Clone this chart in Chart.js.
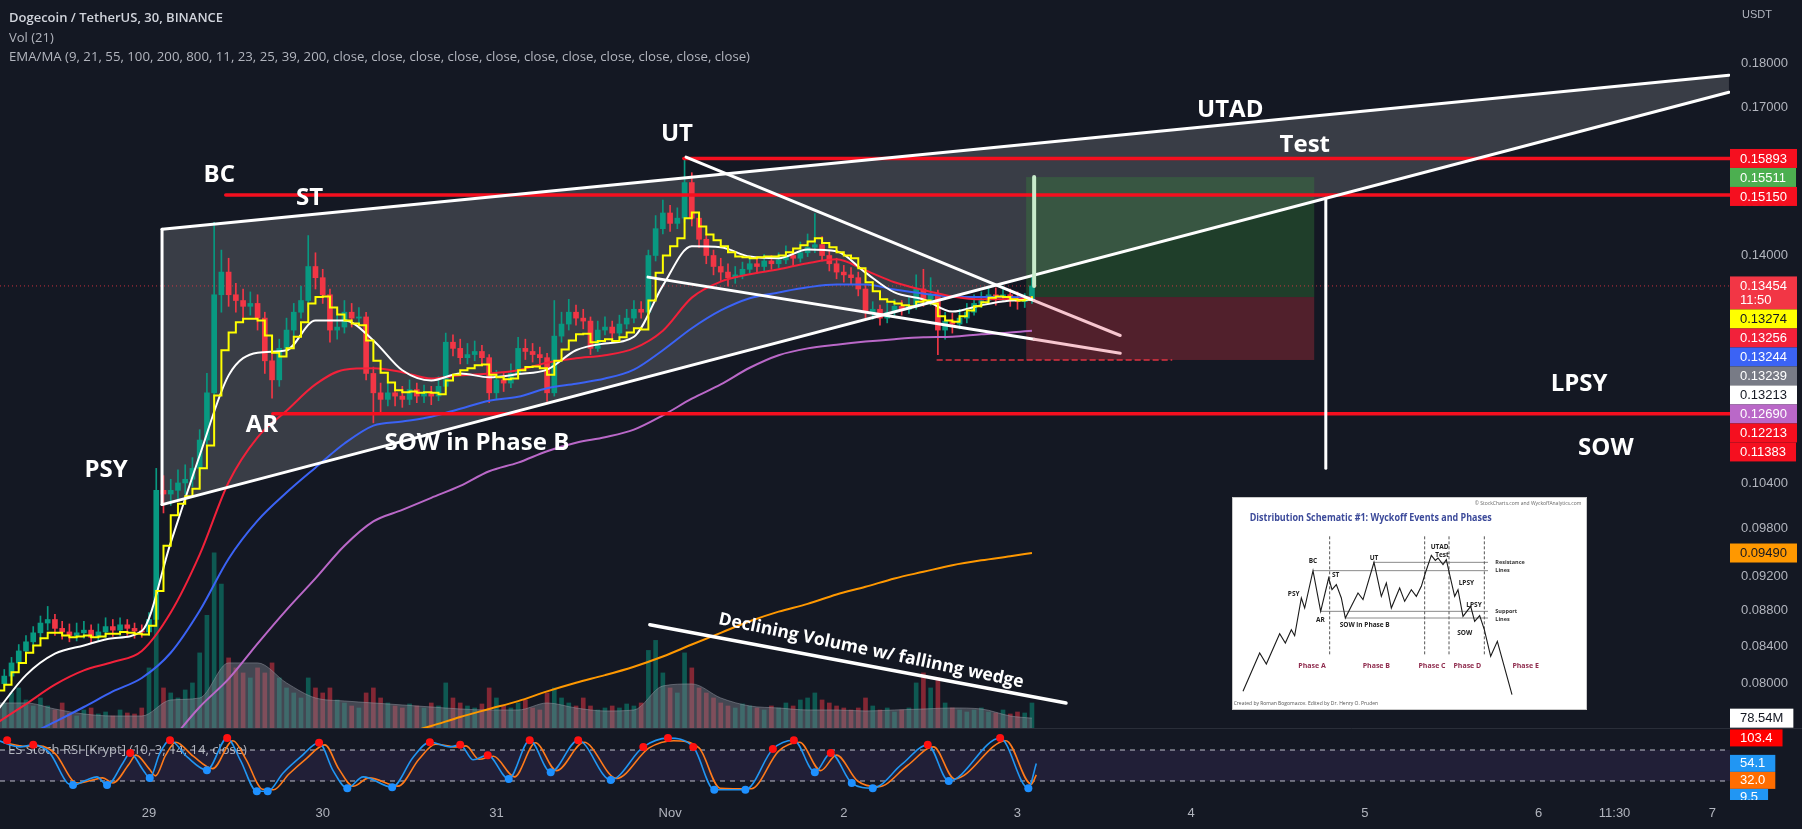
<!DOCTYPE html>
<html>
<head>
<meta charset="utf-8">
<script src="https://cdn.jsdelivr.net/npm/chart.js@4.4.1/dist/chart.umd.min.js"></script>
<style>
html, body { margin: 0; padding: 0; background: #141823; overflow: hidden; }
#wrap { position: relative; width: 1802px; height: 829px; background: #141823; }
#main { position: absolute; left: 0; top: 0; }
#osc { position: absolute; left: 0; top: 728px; }
#inset { position: absolute; left: 1232px; top: 497px; }
</style>
</head>
<body>
<div id="wrap">
  <canvas id="main" width="1802" height="728"></canvas>
  <canvas id="osc" width="1802" height="101"></canvas>
  <canvas id="inset" width="355" height="213"></canvas>
</div>
<script>
// ---------- price data: 1h bars from Oct 28 03:00 (index 0) ----------
const firstOpen = 0.0795;
const closes = [
  .0800,.0808,.0822,.0835,.0845,.0855,.0866,.0870,.0860,.0856,
  .0852,.0855,.0858,.0850,.0856,.0862,.0858,.0864,.0860,.0857,
  .0856,.0870,.1030,.1025,.1030,.1040,.1045,.1060,.1100,.1170,
  .1330,.1370,.1330,.1320,.1310,.1315,.1290,.1220,.1190,.1240,
  .1270,.1300,.1320,.1380,.1360,.1330,.1270,.1275,.1300,.1290,
  .1292,.1200,.1170,.1160,.1170,.1165,.1160,.1175,.1165,.1170,
  .1165,.1180,.1250,.1240,.1225,.1230,.1235,.1225,.1170,.1190,
  .1185,.1200,.1240,.1235,.1230,.1225,.1170,.1260,.1280,.1300,
  .1290,.1285,.1240,.1270,.1275,.1265,.1280,.1290,.1305,.1300,
  .1400,.1450,.1480,.1460,.1470,.1540,.1470,.1430,.1400,.1380,
  .1370,.1360,.1365,.1375,.1385,.1380,.1390,.1385,.1392,.1400,
  .1395,.1405,.1415,.1420,.1400,.1385,.1370,.1365,.1360,.1340,
  .1300,.1305,.1290,.1300,.1310,.1305,.1310,.1340,.1320,.1330,
  .1270,.1285,.1280,.1290,.1300,.1315,.1320,.1330,.1325,.1330,
  .1322,.1318,.1320,.13454
];
const highs = [
  .0810,.0815,.0828,.0842,.0852,.0862,.0874,.0885,.0876,.0868,
  .0865,.0866,.0868,.0864,.0865,.0872,.0870,.0872,.0870,.0866,
  .0864,.0878,.1060,.1050,.1045,.1058,.1065,.1075,.1115,.1200,
  .1462,.1410,.1395,.1350,.1340,.1335,.1330,.1300,.1235,.1255,
  .1290,.1315,.1345,.1437,.1405,.1375,.1340,.1295,.1320,.1315,
  .1308,.1300,.1210,.1185,.1190,.1185,.1180,.1190,.1185,.1182,
  .1180,.1195,.1265,.1262,.1255,.1248,.1252,.1245,.1230,.1205,
  .1200,.1215,.1258,.1255,.1248,.1242,.1232,.1320,.1300,.1322,
  .1312,.1305,.1292,.1285,.1292,.1285,.1295,.1305,.1320,.1318,
  .1410,.1475,.1505,.1495,.1490,.1589,.1560,.1480,.1440,.1410,
  .1395,.1385,.1380,.1388,.1398,.1395,.1402,.1400,.1405,.1418,
  .1412,.1425,.1440,.1479,.1435,.1410,.1395,.1382,.1378,.1370,
  .1348,.1318,.1312,.1315,.1322,.1320,.1325,.1365,.1375,.1360,
  .1338,.1300,.1298,.1305,.1315,.1330,.1335,.1345,.1342,.1345,
  .1340,.1335,.1332,.1360
];
const lows = [
  .0790,.0796,.0803,.0815,.0828,.0838,.0848,.0858,.0852,.0848,
  .0845,.0846,.0849,.0843,.0846,.0850,.0851,.0852,.0852,.0849,
  .0850,.0852,.0866,.1000,.1010,.1018,.1025,.1035,.1050,.1090,
  .1160,.1300,.1310,.1300,.1290,.1295,.1270,.1200,.1162,.1180,
  .1230,.1260,.1290,.1310,.1340,.1315,.1250,.1255,.1265,.1275,
  .1276,.1190,.1125,.1140,.1150,.1150,.1148,.1152,.1155,.1155,
  .1152,.1158,.1175,.1228,.1215,.1215,.1220,.1212,.1155,.1160,
  .1172,.1178,.1195,.1222,.1218,.1212,.1157,.1165,.1250,.1270,
  .1278,.1272,.1230,.1235,.1262,.1255,.1258,.1272,.1282,.1290,
  .1295,.1390,.1440,.1445,.1450,.1462,.1455,.1415,.1385,.1365,
  .1355,.1345,.1350,.1358,.1368,.1368,.1372,.1375,.1378,.1385,
  .1382,.1388,.1398,.1405,.1390,.1372,.1358,.1352,.1348,.1328,
  .1290,.1288,.1278,.1282,.1292,.1295,.1298,.1305,.1310,.1312,
  .1230,.1255,.1265,.1272,.1282,.1295,.1308,.1315,.1312,.1318,
  .1310,.1305,.1308,.1315
];
// volume in millions
const volumes = [
  240,200,280,320,224,176,240,176,144,200,
  120,96,144,160,112,128,96,144,120,112,
  160,480,1150,320,280,240,304,360,600,900,
  1400,1150,560,480,440,400,480,440,520,400,
  320,280,240,400,320,280,320,224,200,176,
  160,280,320,240,200,176,160,192,176,160,
  200,176,360,240,200,176,160,192,320,240,
  176,160,200,224,160,144,280,320,240,200,
  176,240,176,144,160,176,160,192,176,200,
  620,700,440,320,280,600,480,320,280,240,
  200,176,160,192,176,160,144,176,160,200,
  176,224,240,280,224,200,176,160,144,160,
  240,176,144,160,128,144,160,360,440,320,
  400,200,160,144,128,144,160,128,120,144,
  112,128,120,200
];
// moving averages, sampled every 4 bars (last point = last bar)
const emaIdx = [0,4,8,12,16,20,24,28,32,36,40,44,48,52,56,60,64,68,72,76,80,84,88,92,96,100,104,108,112,116,120,124,128,132,136,140,143];
const emaWhite = [.0772,.0809,.0832,.0841,.0849,.0857,.0962,.1078,.1197,.1233,.1237,.1286,.1286,.1253,.1205,.1189,.1200,.1194,.1199,.1206,.1237,.1248,.1259,.1346,.1417,.1415,.1398,.1395,.1411,.1408,.1369,.1334,.1322,.1301,.1312,.1320,.13213];
const emaRed = [.0760,.0779,.0799,.0814,.0823,.0835,.0878,.0947,.1041,.1104,.1143,.1183,.1206,.1208,.1202,.1192,.1197,.1200,.1205,.1217,.1224,.1229,.1240,.1269,.1325,.1353,.1366,.1375,.1386,.1393,.1373,.1352,.1338,.1327,.1322,.1322,.13256];
const emaBlue = [.0733,.0747,.0761,.0776,.0792,.0806,.0833,.0880,.0942,.0990,.1027,.1061,.1095,.1121,.1127,.1134,.1146,.1158,.1164,.1177,.1184,.1192,.1206,.1237,.1273,.1303,.1324,.1334,.1343,.1348,.1348,.1339,.1332,.1327,.1326,.1326,.13244];
const emaPurple = [.0665,.0672,.0680,.0688,.0697,.0707,.0742,.0776,.0805,.0843,.0881,.0918,.0958,.0989,.1004,.1020,.1036,.1056,.1068,.1084,.1096,.1104,.1115,.1136,.1161,.1183,.1209,.1229,.1240,.1246,.1251,.1255,.1258,.1259,.1263,.1266,.12690];
const emaOrange = [null,null,null,null,null,null,null,null,null,null,null,null,null,null,.0749,.0757,.0766,.0774,.0782,.0792,.0801,.0809,.0818,.0829,.0842,.0855,.0868,.0879,.0888,.0899,.0908,.0918,.0926,.0934,.0940,.0945,.0949];
const volMA = [200,200,152,112,96,96,224,240,520,520,360,240,216,200,184,168,152,144,144,200,160,136,144,336,352,240,176,160,144,144,136,144,152,160,152,96,78.54];
// fast stepped average, one value per bar
const emaYellow = [
  .0793,.0799,.0812,.0822,.0833,.0841,.0849,.0855,.0855,.0852,
  .0850,.0851,.0852,.0850,.0851,.0854,.0854,.0856,.0855,.0854,
  .0853,.0863,.0903,.0958,.0997,.1012,.1022,.1032,.1060,.1092,
  .1166,.1237,.1266,.1283,.1289,.1289,.1286,.1261,.1233,.1227,
  .1240,.1259,.1283,.1315,.1326,.1327,.1308,.1296,.1286,.1281,
  .1278,.1253,.1220,.1201,.1186,.1174,.1171,.1172,.1170,.1171,
  .1170,.1168,.1189,.1198,.1205,.1208,.1213,.1214,.1198,.1194,
  .1191,.1192,.1205,.1210,.1211,.1208,.1198,.1220,.1238,.1253,
  .1263,.1264,.1250,.1252,.1255,.1252,.1258,.1266,.1273,.1271,
  .1320,.1369,.1400,.1417,.1432,.1470,.1481,.1454,.1439,.1428,
  .1417,.1406,.1398,.1397,.1395,.1397,.1398,.1398,.1400,.1406,
  .1413,.1419,.1426,.1432,.1423,.1415,.1406,.1400,.1395,.1377,
  .1352,.1336,.1322,.1318,.1315,.1312,.1310,.1318,.1320,.1315,
  .1293,.1286,.1284,.1293,.1303,.1310,.1317,.1325,.1327,.1326,
  .1322,.1320,.1322,.13274
];
// stoch RSI
const kIdx = [0,3.2,5.0,7.3,9.7,10.5,12.4,13.8,15.2,17.4,18.4,20.2,21.1,22.5,23.9,26.3,29.0,31.8,33.6,35.9,37.4,39.5,41.9,44.5,46.4,48.4,50.6,54.6,57.5,59.8,62.6,64.0,65.8,67.8,70.7,73.6,76.5,80.3,84.8,89.3,92.7,96.2,99.1,103.4,107.2,110.1,113.0,115.2,118.1,121.0,125.0,128.6,131.5,138.6,142.5,143.6];
const kVal = [99,86,90,74,16,12,22,28,12,55,74,41,26,74,99,66,41,103,61,0,0,35,66,94,41,6,28,8,66,95,86,90,61,70,24,99,37,99,22,86,103,86,3,3,82,99,37,74,16,6,52,90,20,103,6,54];
const dIdx = [0.8,4.0,5.8,8.1,10.5,11.3,13.2,14.6,16.0,18.2,19.2,21.0,21.9,23.3,24.7,27.1,29.8,32.6,34.4,36.7,38.2,40.3,42.7,45.3,47.2,49.2,51.4,55.4,58.3,60.6,63.4,64.8,66.6,68.6,71.5,74.4,77.3,81.1,85.6,90.1,93.5,97.0,99.9,104.2,108.0,110.9,113.8,116.0,118.9,121.8,125.8,129.4,132.3,139.4,142.9,143.6];
const dVal = [95,87,88,72,20,16,22,26,16,52,70,44,30,70,95,68,44,98,62,4,3,33,63,90,44,10,26,10,62,91,86,88,62,68,28,94,40,95,25,84,98,84,6,5,78,95,40,70,20,9,50,86,24,98,14,32];
const topDotIdx = [1.4,5.0,18.4,23.9,31.8,44.5,59.8,64.0,67.8,73.6,80.3,89.3,92.7,96.2,107.2,110.1,115.2,128.6,138.6];
const topDotVal = [99,90,74,99,103,94,95,90,70,99,99,86,103,86,82,99,74,90,103];
const lowDotIdx = [10.5,15.2,21.1,29.0,35.9,37.4,48.4,54.6,70.7,76.5,84.8,99.1,103.4,113.0,118.1,121.0,131.5,142.5];
const lowDotVal = [12,12,26,41,0,0,6,8,24,37,22,3,3,37,16,6,20,6];

// axis ticks
const priceTicks = [0.18, 0.17, 0.15, 0.14, 0.104, 0.098, 0.092, 0.088, 0.084, 0.08];
const dayTicks = [21, 45, 69, 93, 117, 141, 165, 189, 213, 223.5, 237];
const dayLabels = ['29', '30', '31', 'Nov', '2', '3', '4', '5', '6', '11:30', '7'];
const xRange = [0.41, 239.45];
const priceRange = [0.0755, 0.1955];
const volRange = [0, 5816];
const oscRange = [-16.8, 122.6];

// drawings (bar index, price)
const wedgeIdx = [22.8, 239.3, 239.3, 22.8];
const wedgePx = [0.1449, 0.1772, 0.1733, 0.1011];
const fallUpIdx = [95.2, 143.3, 155.2];
const fallUpPx = [0.1592, 0.1320, 0.1261];
const fallLoIdx = [89.95, 143.3, 155.2];
const fallLoPx = [0.1361, 0.1255, 0.1232];
const redLevels = [0.15893, 0.1515, 0.11383];
const redFrom = [94.9, 31.6, 38.1];
const vLineIdx = 183.6, vLineTop = 0.1509, vLineBottom = 0.1060;
const pos = { from: 142.2, to: 182.0, target: 0.15511, entry: 0.1326, stop: 0.12213 };
const stopDash = { from: 129.9, to: 162.3 };
const lastPrice = 0.13454;
const volLine = { i0: 90.2, p0: 0.0864, i1: 147.7, p1: 0.0780 };
const volText = { i: 99.6, p: 0.0865, angle: 11.8, text: 'Declining Volume w/ fallinng wedge' };
const wyckoff = [
  ['PSY', 15.06, 0.1058], ['BC', 30.7, 0.1555], ['ST', 43.2, 0.1509], ['AR', 36.6, 0.1121],
  ['SOW in Phase B', 66.3, 0.1096], ['UT', 93.95, 0.1640], ['UTAD', 170.4, 0.1693],
  ['Test', 180.7, 0.1617], ['LPSY', 218.6, 0.1183], ['SOW', 222.3, 0.1088]
];
const priceTags = [
  { v: 0.15893, bg: '#f50f1f', fg: '#ffffff' },
  { v: 0.15511, bg: '#4caf50', fg: '#ffffff' },
  { v: 0.15150, bg: '#f50f1f', fg: '#ffffff' },
  { v: 0.13454, bg: '#f23645', fg: '#ffffff', sub: '11:50' },
  { v: 0.13274, bg: '#ffff00', fg: '#131722' },
  { v: 0.13256, bg: '#f2213a', fg: '#ffffff' },
  { v: 0.13244, bg: '#3b63f5', fg: '#ffffff' },
  { v: 0.13239, bg: '#787b86', fg: '#ffffff' },
  { v: 0.13213, bg: '#ffffff', fg: '#131722' },
  { v: 0.12690, bg: '#ba68c8', fg: '#ffffff' },
  { v: 0.12213, bg: '#f50f1f', fg: '#ffffff' },
  { v: 0.11383, bg: '#f50f1f', fg: '#ffffff' },
  { v: 0.09490, bg: '#ff9800', fg: '#131722' }
];
const stochTags = [
  { v: 103.4, bg: '#ff0000', fg: '#ffffff' },
  { v: 54.1, bg: '#2196f3', fg: '#ffffff' },
  { v: 32.0, bg: '#ff6d00', fg: '#ffffff' },
  { v: 9.5, bg: '#2196f3', fg: '#ffffff' }
];

// schematic inset (coordinates of the source picture)
const schemX = [55,105,125,165,182,200,210,230,240,265,288,312,322,335,350,362,400,415,448,470,485,500,525,540,560,575,590,602,620,632,640,655,665,675,690,700,715,738,750,765,779,798,818,862];
const schemY = [605,490,523,432,460,420,438,325,355,243,365,265,300,285,325,385,310,330,218,320,280,355,295,335,300,320,290,250,197,212,205,225,210,255,320,300,380,350,395,378,420,500,455,615];
const schemPhaseX = [315, 600, 673, 779];
const schemLevels = [[445, 790, 218], [265, 790, 243], [288, 790, 365], [362, 790, 385]];
const schemLabels = [
  ['BC', 265, 213], ['PSY', 207, 312], ['ST', 333, 257], ['AR', 287, 390], ['SOW in Phase B', 420, 407],
  ['UT', 448, 205], ['UTAD', 645, 172], ['Test', 652, 197], ['LPSY', 725, 280], ['LPSY', 748, 345], ['SOW', 720, 430]
];
const schemSide = [['Resistance', 812, 218], ['Lines', 812, 243], ['Support', 812, 365], ['Lines', 812, 388]];
const schemPhases = [['Phase A', 262, 530], ['Phase B', 455, 530], ['Phase C', 622, 530], ['Phase D', 728, 530], ['Phase E', 903, 530]];

// ---------- helpers ----------
const AXIS_TXT = '#b2b5be';
const UP = '#089981', DOWN = '#f23645';
const LABEL_FONT = '"Open Sans", "Noto Sans", sans-serif';
const AXIS_FONT = '"Liberation Sans", Arial, sans-serif';

const idx = closes.map((_, i) => i);
const opens = closes.map((c, i) => (i === 0 ? firstOpen : closes[i - 1]));
const isUp = closes.map((c, i) => c >= opens[i]);

function pts(xsArr, ysArr) {
  return xsArr.map((x, k) => ({ x: x, y: ysArr[k] })).filter(p => p.y !== null);
}
// keep the exact range, chart.js would otherwise round to tick bounds
function fixRange(range) {
  return s => { s.min = range[0]; s.max = range[1]; };
}
// axis box without the extra label padding chart.js adds
function fitAxis(w, h) {
  return s => {
    if (w !== null) s.width = w;
    if (h !== null) s.height = h;
    s.paddingTop = 0; s.paddingBottom = 0; s.paddingLeft = 0; s.paddingRight = 0;
  };
}

function drawTags(ctx, tags, left, boxH, lineGap) {
  tags.sort((a, b) => a.y - b.y);
  let floor = -Infinity;
  ctx.font = '13px ' + AXIS_FONT;
  ctx.textBaseline = 'middle';
  ctx.textAlign = 'left';
  tags.forEach(t => {
    const lines = t.sub ? [t.text, t.sub] : [t.text];
    const h = boxH + (lines.length - 1) * lineGap;
    let top = t.y - boxH / 2;
    if (top < floor) top = floor;
    const w = Math.max(...lines.map(l => ctx.measureText(l).width)) + 20;
    ctx.fillStyle = t.bg;
    ctx.fillRect(left, top, w, h);
    ctx.fillStyle = t.fg;
    lines.forEach((l, k) => ctx.fillText(l, left + 10, top + boxH / 2 + k * lineGap + 0.5));
    floor = top + h;
  });
}

// ---------- main pane drawings ----------
const mainDecor = {
  id: 'mainDecor',
  beforeDatasetsDraw(chart) {
    const { ctx, chartArea: a, scales: { x, y } } = chart;
    ctx.save();
    ctx.beginPath();
    ctx.rect(a.left, a.top, a.right - a.left, a.bottom - a.top);
    ctx.clip();
    // distribution range wedge
    ctx.beginPath();
    wedgeIdx.forEach((i, k) => {
      const px = x.getPixelForValue(i), py = y.getPixelForValue(wedgePx[k]);
      if (k === 0) ctx.moveTo(px, py); else ctx.lineTo(px, py);
    });
    ctx.closePath();
    ctx.fillStyle = 'rgba(255,255,255,0.16)';
    ctx.fill();
    // long position tool
    const x0 = x.getPixelForValue(pos.from), x1 = x.getPixelForValue(pos.to);
    const yT = y.getPixelForValue(pos.target), yE = y.getPixelForValue(pos.entry), yS = y.getPixelForValue(pos.stop);
    ctx.fillStyle = 'rgba(56,142,60,0.32)';
    ctx.fillRect(x0, yT, x1 - x0, yE - yT);
    ctx.fillStyle = 'rgba(242,54,69,0.28)';
    ctx.fillRect(x0, yE, x1 - x0, yS - yE);
    // last price dotted line
    const yL = y.getPixelForValue(lastPrice);
    ctx.strokeStyle = 'rgba(242,54,69,0.8)';
    ctx.lineWidth = 1;
    ctx.setLineDash([1, 3]);
    ctx.beginPath();
    ctx.moveTo(a.left, yL);
    ctx.lineTo(a.right, yL);
    ctx.stroke();
    ctx.setLineDash([]);
    ctx.restore();
  },
  afterDatasetsDraw(chart) {
    const { ctx, chartArea: a, scales: { x, y } } = chart;
    const P = (i, p) => [x.getPixelForValue(i), y.getPixelForValue(p)];
    const seg = (p0, p1, color, w, dash) => {
      ctx.strokeStyle = color;
      ctx.lineWidth = w;
      ctx.setLineDash(dash || []);
      ctx.beginPath();
      ctx.moveTo(p0[0], p0[1]);
      ctx.lineTo(p1[0], p1[1]);
      ctx.stroke();
      ctx.setLineDash([]);
    };
    ctx.save();
    ctx.beginPath();
    ctx.rect(a.left, a.top, a.right - a.left, a.bottom - a.top);
    ctx.clip();
    ctx.lineCap = 'round';

    // red horizontal levels
    redLevels.forEach((p, k) => seg(P(redFrom[k], p), P(240, p), '#f50f1f', 3.5));

    // big wedge outline
    seg(P(wedgeIdx[0], wedgePx[0]), P(wedgeIdx[1], wedgePx[1]), '#ffffff', 3);
    seg(P(wedgeIdx[3], wedgePx[3]), P(wedgeIdx[2], wedgePx[2]), '#ffffff', 3);
    seg(P(wedgeIdx[0], wedgePx[0]), P(wedgeIdx[3], wedgePx[3]), '#ffffff', 3);

    // falling wedge
    seg(P(fallUpIdx[0], fallUpPx[0]), P(fallUpIdx[1], fallUpPx[1]), '#ffffff', 3);
    seg(P(fallUpIdx[1], fallUpPx[1]), P(fallUpIdx[2], fallUpPx[2]), '#f7c6cf', 3);
    seg(P(fallLoIdx[0], fallLoPx[0]), P(fallLoIdx[1], fallLoPx[1]), '#ffffff', 3);
    seg(P(fallLoIdx[1], fallLoPx[1]), P(fallLoIdx[2], fallLoPx[2]), '#f7c6cf', 3);

    // vertical marker
    seg(P(vLineIdx, vLineTop), P(vLineIdx, vLineBottom), '#ffffff', 3);

    // target path and stop level of the position
    seg(P(143.3, pos.target), P(143.3, lastPrice), '#c8ebcb', 4);
    seg(P(stopDash.from, pos.stop), P(stopDash.to, pos.stop), 'rgba(242,54,69,0.9)', 1.5, [5, 4]);

    // declining volume line + text
    seg(P(volLine.i0, volLine.p0), P(volLine.i1, volLine.p1), '#ffffff', 3.5);
    const tp = P(volText.i, volText.p);
    ctx.save();
    ctx.translate(tp[0], tp[1]);
    ctx.rotate(volText.angle * Math.PI / 180);
    ctx.font = 'bold 17.5px ' + LABEL_FONT;
    ctx.fillStyle = '#ffffff';
    ctx.textAlign = 'left';
    ctx.textBaseline = 'alphabetic';
    ctx.fillText(volText.text, 0, 0);
    ctx.restore();

    // wyckoff labels
    ctx.font = 'bold 24px ' + LABEL_FONT;
    ctx.fillStyle = '#ffffff';
    ctx.textAlign = 'center';
    ctx.textBaseline = 'middle';
    wyckoff.forEach(w => {
      const p = P(w[1], w[2]);
      ctx.fillText(w[0], p[0], p[1]);
    });
    ctx.restore();
  },
  afterDraw(chart) {
    const { ctx, chartArea: a, scales: { y, yVol } } = chart;
    ctx.save();
    // legend
    ctx.textAlign = 'left';
    ctx.textBaseline = 'middle';
    ctx.fillStyle = '#d1d4dc';
    ctx.font = '600 13px ' + LABEL_FONT;
    ctx.fillText('Dogecoin / TetherUS, 30, BINANCE', 9, 18);
    ctx.fillStyle = AXIS_TXT;
    ctx.font = '13px ' + LABEL_FONT;
    ctx.fillText('Vol (21)', 9, 38);
    ctx.font = '13.5px ' + LABEL_FONT;
    ctx.fillText('EMA/MA (9, 21, 55, 100, 200, 800, 11, 23, 25, 39, 200, close, close, close, close, close, close, close, close, close, close, close)', 9, 57, 741);
    ctx.font = '11px ' + AXIS_FONT;
    ctx.fillText('USDT', 1742, 15);
    // price tags on the axis
    const tags = priceTags.map(t => ({ ...t, y: y.getPixelForValue(t.v), text: t.v.toFixed(5) }));
    drawTags(ctx, tags, a.right, 19, 14);
    const vLast = volMA[volMA.length - 1];
    drawTags(ctx, [{ v: vLast, y: yVol.getPixelForValue(vLast), text: vLast.toFixed(2) + 'M', bg: '#ffffff', fg: '#131722' }], a.right, 19, 14);
    ctx.restore();
  }
};

const mainChart = new Chart(document.getElementById('main'), {
  type: 'bar',
  data: {
    datasets: [
      { type: 'line', label: 'EMA fast', data: emaYellow.map((v, i) => ({ x: i, y: v })), stepped: true,
        borderColor: '#ffff00', borderWidth: 2, pointRadius: 0, order: 0 },
      { type: 'line', label: 'EMA 11', data: pts(emaIdx, emaWhite), borderColor: '#ffffff', borderWidth: 2,
        pointRadius: 0, cubicInterpolationMode: 'monotone', order: 1 },
      { type: 'line', label: 'EMA 55', data: pts(emaIdx, emaRed), borderColor: '#f2213a', borderWidth: 2,
        pointRadius: 0, cubicInterpolationMode: 'monotone', order: 2 },
      { type: 'line', label: 'EMA 100', data: pts(emaIdx, emaBlue), borderColor: '#3b63f5', borderWidth: 2,
        pointRadius: 0, cubicInterpolationMode: 'monotone', order: 3 },
      { type: 'line', label: 'EMA 200', data: pts(emaIdx, emaPurple), borderColor: '#ba68c8', borderWidth: 2,
        pointRadius: 0, cubicInterpolationMode: 'monotone', order: 4 },
      { type: 'line', label: 'EMA 800', data: pts(emaIdx, emaOrange), borderColor: '#ff9800', borderWidth: 2,
        pointRadius: 0, cubicInterpolationMode: 'monotone', order: 5 },
      { label: 'body', data: idx.map(i => ({ x: i, y: [opens[i], closes[i]] })),
        backgroundColor: idx.map(i => (isUp[i] ? UP : DOWN)), barThickness: 5, minBarLength: 1,
        grouped: false, order: 6 },
      { label: 'wick', data: idx.map(i => ({ x: i, y: [lows[i], highs[i]] })),
        backgroundColor: idx.map(i => (isUp[i] ? UP : DOWN)), barThickness: 1, grouped: false, order: 7 },
      { type: 'line', label: 'Vol MA', yAxisID: 'yVol', data: pts(emaIdx, volMA), fill: 'origin',
        backgroundColor: 'rgba(125,128,140,0.45)', borderColor: 'rgba(150,153,164,0.5)', borderWidth: 1,
        pointRadius: 0, cubicInterpolationMode: 'monotone', order: 8 },
      { label: 'Volume', yAxisID: 'yVol', data: idx.map(i => ({ x: i, y: volumes[i] })),
        backgroundColor: idx.map(i => (isUp[i] ? 'rgba(8,153,129,0.5)' : 'rgba(242,54,69,0.5)')),
        barThickness: 4, grouped: false, order: 9 }
    ]
  },
  options: {
    responsive: false,
    animation: false,
    devicePixelRatio: 1,
    layout: { padding: 0, autoPadding: false },
    plugins: { legend: { display: false }, tooltip: { enabled: false } },
    scales: {
      x: { type: 'linear', min: xRange[0], max: xRange[1], bounds: 'data', display: false, offset: false,
        afterBuildTicks: fixRange(xRange) },
      y: {
        type: 'logarithmic', position: 'right', min: priceRange[0], max: priceRange[1], bounds: 'data',
        grid: { display: false, drawTicks: false }, border: { display: false },
        afterBuildTicks: s => { s.ticks = priceTicks.map(v => ({ value: v })); fixRange(priceRange)(s); },
        afterFit: fitAxis(72, null),
        ticks: { color: AXIS_TXT, font: { size: 13, family: AXIS_FONT }, padding: 11, callback: v => Number(v).toFixed(5) }
      },
      yVol: { type: 'linear', min: volRange[0], max: volRange[1], bounds: 'data', display: false,
        afterBuildTicks: fixRange(volRange) }
    }
  },
  plugins: [mainDecor]
});

// ---------- stoch RSI pane ----------
const oscDecor = {
  id: 'oscDecor',
  beforeDatasetsDraw(chart) {
    const { ctx, chartArea: a, scales: { y } } = chart;
    const y80 = y.getPixelForValue(80), y20 = y.getPixelForValue(20);
    ctx.save();
    ctx.fillStyle = 'rgba(126,87,194,0.13)';
    ctx.fillRect(a.left, y80, a.right - a.left, y20 - y80);
    ctx.strokeStyle = '#2a2e39';
    ctx.lineWidth = 1;
    ctx.beginPath();
    ctx.moveTo(0, 0.5);
    ctx.lineTo(chart.width, 0.5);
    ctx.stroke();
    ctx.fillStyle = AXIS_TXT;
    ctx.font = '13px ' + LABEL_FONT;
    ctx.textAlign = 'left';
    ctx.textBaseline = 'middle';
    ctx.fillText('ES Stoch RSI [Krypt] (10, 3, 14, 14, close)', 8, y80);
    ctx.strokeStyle = 'rgba(220,222,230,0.85)';
    ctx.setLineDash([5, 5]);
    [y80, y20].forEach(v => {
      ctx.beginPath();
      ctx.moveTo(a.left, v);
      ctx.lineTo(a.right, v);
      ctx.stroke();
    });
    ctx.restore();
  },
  afterDraw(chart) {
    const { ctx, chartArea: a, scales: { y } } = chart;
    ctx.save();
    ctx.beginPath();
    ctx.rect(0, 0, chart.width, a.bottom);
    ctx.clip();
    const tags = stochTags.map(t => ({ ...t, y: y.getPixelForValue(t.v), text: t.v.toFixed(1) }));
    drawTags(ctx, tags, a.right, 17, 14);
    ctx.restore();
  }
};

const oscChart = new Chart(document.getElementById('osc'), {
  type: 'line',
  data: {
    datasets: [
      { type: 'scatter', data: pts(topDotIdx, topDotVal), pointRadius: 4, pointBackgroundColor: '#ff1010',
        pointBorderWidth: 0, clip: false, order: 0 },
      { type: 'scatter', data: pts(lowDotIdx, lowDotVal), pointRadius: 4, pointBackgroundColor: '#1e90ff',
        pointBorderWidth: 0, clip: false, order: 1 },
      { data: pts(kIdx, kVal), borderColor: '#2196f3', borderWidth: 1.6, pointRadius: 0,
        cubicInterpolationMode: 'monotone', order: 2 },
      { data: pts(dIdx, dVal), borderColor: '#ff7a1a', borderWidth: 1.6, pointRadius: 0,
        cubicInterpolationMode: 'monotone', order: 3 }
    ]
  },
  options: {
    responsive: false,
    animation: false,
    devicePixelRatio: 1,
    layout: { padding: 0, autoPadding: false },
    plugins: { legend: { display: false }, tooltip: { enabled: false } },
    scales: {
      x: {
        type: 'linear', min: xRange[0], max: xRange[1], bounds: 'data', position: 'bottom',
        grid: { display: false, drawTicks: false }, border: { display: false },
        afterBuildTicks: s => { s.ticks = dayTicks.map(v => ({ value: v })); fixRange(xRange)(s); },
        afterFit: fitAxis(null, 29),
        ticks: { color: AXIS_TXT, font: { size: 13, family: AXIS_FONT }, padding: 6, maxRotation: 0,
          autoSkip: false, callback: (v, k) => dayLabels[k] }
      },
      y: {
        type: 'linear', min: oscRange[0], max: oscRange[1], bounds: 'data', position: 'right',
        grid: { display: false, drawTicks: false }, border: { display: false },
        ticks: { display: false }, afterBuildTicks: fixRange(oscRange), afterFit: fitAxis(72, null)
      }
    }
  },
  plugins: [oscDecor]
});

// ---------- schematic inset ----------
const insetDecor = {
  id: 'insetDecor',
  beforeDraw(chart) {
    const { ctx, width, height } = chart;
    ctx.save();
    ctx.fillStyle = '#ffffff';
    ctx.fillRect(0, 0, width, height);
    ctx.strokeStyle = '#c9c9c9';
    ctx.lineWidth = 1;
    ctx.strokeRect(0.5, 0.5, width - 1, height - 1);
    ctx.restore();
  },
  beforeDatasetsDraw(chart) {
    const { ctx, scales: { x, y } } = chart;
    ctx.save();
    ctx.strokeStyle = '#8a8a8a';
    ctx.lineWidth = 1;
    schemLevels.forEach(l => {
      ctx.beginPath();
      ctx.moveTo(x.getPixelForValue(l[0]), y.getPixelForValue(l[2]));
      ctx.lineTo(x.getPixelForValue(l[1]), y.getPixelForValue(l[2]));
      ctx.stroke();
    });
    ctx.strokeStyle = '#555555';
    ctx.setLineDash([3, 2]);
    schemPhaseX.forEach(px => {
      ctx.beginPath();
      ctx.moveTo(x.getPixelForValue(px), y.getPixelForValue(140));
      ctx.lineTo(x.getPixelForValue(px), y.getPixelForValue(495));
      ctx.stroke();
    });
    ctx.restore();
  },
  afterDatasetsDraw(chart) {
    const { ctx, scales: { x, y } } = chart;
    const put = (t, px, py, font, color, align, maxW) => {
      ctx.font = font;
      ctx.fillStyle = color;
      ctx.textAlign = align;
      ctx.fillText(t, x.getPixelForValue(px), y.getPixelForValue(py), maxW);
    };
    ctx.save();
    ctx.textBaseline = 'middle';
    put('Distribution Schematic #1: Wyckoff Events and Phases', 75, 85, 'bold 10px ' + LABEL_FONT, '#3c4a9a', 'left', 242);
    put('\u00a9 StockCharts.com and WyckoffAnalytics.com', 1070, 42, '5px ' + LABEL_FONT, '#666666', 'right', 120);
    put('Created by Roman Bogomazov. Edited by Dr. Henry O. Pruden', 27, 642, '5px ' + LABEL_FONT, '#555555', 'left', 165);
    schemLabels.forEach(l => put(l[0], l[1], l[2], 'bold 6.5px ' + LABEL_FONT, '#222222', 'center'));
    schemSide.forEach(l => put(l[0], l[1], l[2], 'bold 5.5px ' + LABEL_FONT, '#333333', 'left'));
    schemPhases.forEach(l => put(l[0], l[1], l[2], 'bold 7px ' + LABEL_FONT, '#8f2b4d', 'center'));
    ctx.restore();
  }
};

const insetChart = new Chart(document.getElementById('inset'), {
  type: 'line',
  data: { datasets: [{ data: pts(schemX, schemY), borderColor: '#1a1a1a', borderWidth: 1.1, pointRadius: 0, tension: 0 }] },
  options: {
    responsive: false,
    animation: false,
    devicePixelRatio: 1,
    layout: { padding: 0, autoPadding: false },
    plugins: { legend: { display: false }, tooltip: { enabled: false } },
    scales: {
      x: { type: 'linear', min: 22, max: 1087, display: false },
      y: { type: 'linear', min: 22, max: 661, reverse: true, display: false }
    }
  },
  plugins: [insetDecor]
});
</script>
</body>
</html>
